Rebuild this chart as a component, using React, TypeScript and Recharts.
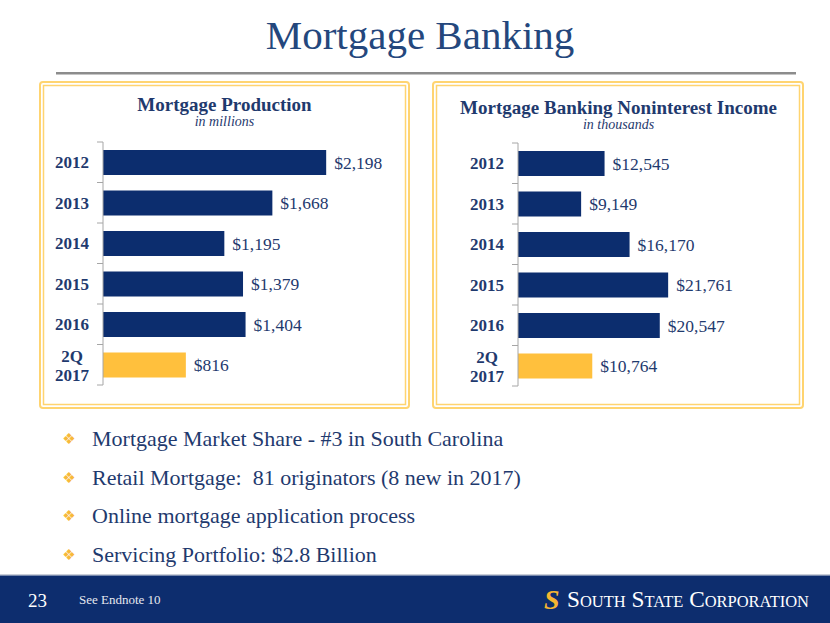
import React from 'react';
import { BarChart, Bar, XAxis, YAxis, Cell, LabelList } from 'recharts';

const years = ['2012', '2013', '2014', '2015', '2016', '2Q 2017'];
const production = [2198, 1668, 1195, 1379, 1404, 816];
const income = [12545, 9149, 16170, 21761, 20547, 10764];
const bullets = [
  'Mortgage Market Share - #3 in South Carolina',
  'Retail Mortgage:  81 originators (8 new in 2017)',
  'Online mortgage application process',
  'Servicing Portfolio: $2.8 Billion',
];

const NAVY = '#0C2D6E';
const GOLD = '#FFC03D';
const TEXT = '#1F3A6E';
const SERIF = '"Liberation Serif", "Times New Roman", serif';

const productionData = years.map((year, i) => ({ year, value: production[i] }));
const incomeData = years.map((year, i) => ({ year, value: income[i] }));

const fmt = (v: any) => `$${Number(v).toLocaleString('en-US')}`;

function YearTick(props: any) {
  const { x, y, payload, index } = props;
  const half = payload?.offset ?? 20.25;
  const parts = String(payload.value).split(' ');
  const axisX = x + 14;
  return (
    <g>
      <line x1={axisX - 6} x2={axisX} y1={y - half} y2={y - half} stroke="#A6A6A6" />
      {index === years.length - 1 && (
        <line x1={axisX - 6} x2={axisX} y1={y + half} y2={y + half} stroke="#A6A6A6" />
      )}
      <text x={x} y={y} textAnchor="end" fill={TEXT} fontSize={17} fontWeight="bold" fontFamily={SERIF}>
        {parts.length === 1 ? (
          <tspan x={x} dy={6}>{parts[0]}</tspan>
        ) : (
          <>
            <tspan x={x - 6} dy={-3}>{parts[0]}</tspan>
            <tspan x={x} dy={19}>{parts[1]}</tspan>
          </>
        )}
      </text>
    </g>
  );
}

function Panel({ data, max, axisWidth, right, left, top, width }: any) {
  return (
    <div style={{ position: 'absolute', left, top }}>
      <BarChart
        width={width}
        height={260}
        data={data}
        layout="vertical"
        margin={{ top: 7, right, bottom: 10, left: 0 }}
      >
        <XAxis type="number" domain={[0, max]} hide />
        <YAxis
          type="category"
          dataKey="year"
          width={axisWidth}
          axisLine={{ stroke: '#A6A6A6' }}
          tickLine={false}
          tickSize={0}
          tickMargin={14}
          tick={<YearTick />}
          interval={0}
        />
        <Bar dataKey="value" barSize={25} isAnimationActive={false}>
          {data.map((d: any, i: number) => (
            <Cell key={d.year} fill={i === data.length - 1 ? GOLD : NAVY} />
          ))}
          <LabelList
            dataKey="value"
            position="right"
            offset={8}
            formatter={fmt}
            fill={TEXT}
            fontSize={17.5}
            fontFamily={SERIF}
          />
        </Bar>
      </BarChart>
    </div>
  );
}

export default function App() {
  return (
    <div
      style={{
        position: 'absolute',
        left: 0,
        top: 0,
        width: 830,
        height: 623,
        background: '#fff',
        overflow: 'hidden',
        fontFamily: SERIF,
      }}
    >
      <svg width={830} height={623} style={{ position: 'absolute', left: 0, top: 0 }}>
        <text x={420} y={49} textAnchor="middle" fontSize={41} fill="#24477D" fontFamily={SERIF}>
          Mortgage Banking
        </text>
        <rect x={56} y={72} width={740} height={2.5} fill="#8C8C8C" />

        {/* gold double frames */}
        <rect x={40} y={82} width={369} height={326} rx={3} fill="none" stroke="#FFD470" strokeWidth={2} />
        <rect x={43.5} y={85.5} width={362} height={319} fill="none" stroke="#FFD470" strokeWidth={1.5} />
        <rect x={433} y={82} width={370} height={326} rx={3} fill="none" stroke="#FFD470" strokeWidth={2} />
        <rect x={436.5} y={85.5} width={363} height={319} fill="none" stroke="#FFD470" strokeWidth={1.5} />

        <text x={224.5} y={111} textAnchor="middle" fontSize={19} fontWeight="bold" fill={TEXT} fontFamily={SERIF}>
          Mortgage Production
        </text>
        <text x={224.5} y={126} textAnchor="middle" fontSize={14} fontStyle="italic" fill={TEXT} fontFamily={SERIF}>
          in millions
        </text>
        <text x={618.5} y={114} textAnchor="middle" fontSize={19} fontWeight="bold" fill={TEXT} fontFamily={SERIF}>
          Mortgage Banking Noninterest Income
        </text>
        <text x={618.5} y={129} textAnchor="middle" fontSize={14} fontStyle="italic" fill={TEXT} fontFamily={SERIF}>
          in thousands
        </text>

        {bullets.map((b, i) => {
          const base = [446, 485, 523, 562][i];
          return (
            <g key={b}>
              <text x={69} y={base - 2} textAnchor="middle" fontSize={15} fill="#F7B93A" fontFamily="DejaVu Sans">
                ❖
              </text>
              <text x={92} y={base} fontSize={22} fill={TEXT} fontFamily={SERIF} xmlSpace="preserve">
                {b}
              </text>
            </g>
          );
        })}

        <rect x={0} y={574} width={830} height={1.5} fill="#C9CED8" />
        <rect x={0} y={575.5} width={830} height={48} fill="#0D2D6E" />
        <text x={28} y={607} fontSize={19} fill="#fff" fontFamily={SERIF}>23</text>
        <text x={79} y={604} fontSize={13} fill="#E6E8EE" fontFamily={SERIF}>See Endnote 10</text>
        <text x={544} y={609} fontSize={28} fontWeight="bold" fontStyle="italic" fill="#F5B532" fontFamily={SERIF}>
          S
        </text>
        <text
          x={567}
          y={607}
          fontSize={24}
          fill="#fff"
          fontFamily={SERIF}
          style={{ fontVariant: 'small-caps' }}
          textLength={242}
          lengthAdjust="spacingAndGlyphs"
        >
          South State Corporation
        </text>
      </svg>

      <Panel data={productionData} max={2600} axisWidth={63} right={42} left={40} top={135} width={369} />
      <Panel data={incomeData} max={30000} axisWidth={85} right={78} left={433} top={136} width={370} />
    </div>
  );
}
